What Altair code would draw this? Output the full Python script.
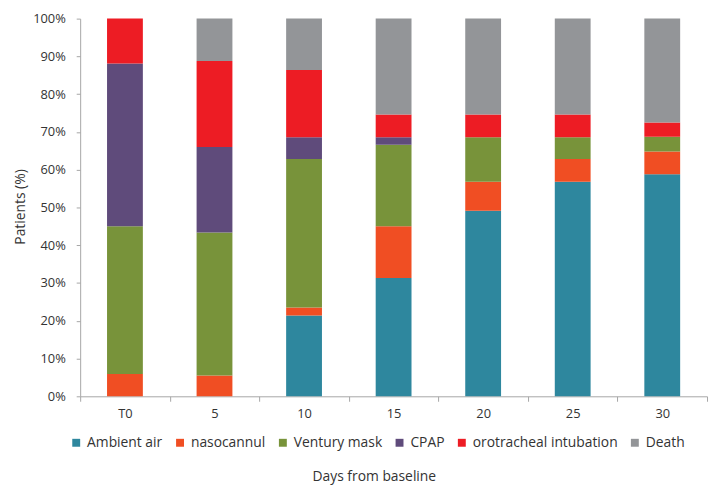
import altair as alt
import pandas as pd

days = ["T0", "5", "10", "15", "20", "25", "30"]
series = ["Ambient air", "nasocannul", "Ventury mask", "CPAP", "orotracheal intubation", "Death"]
colors = ["#2E879E", "#F04E23", "#78933A", "#5F4B7B", "#ED1C24", "#939598"]

ambient = [0, 0, 21.4, 31.3, 49.1, 56.8, 58.8]
naso = [5.9, 5.5, 2.1, 13.7, 7.7, 6.0, 6.0]
ventury = [39.1, 37.9, 39.3, 21.6, 11.8, 5.8, 3.9]
cpap = [43.1, 22.6, 5.8, 2.0, 0, 0, 0]
oti = [11.9, 22.8, 17.8, 6.0, 6.0, 6.0, 3.8]
death = [0, 11.2, 13.6, 25.4, 25.4, 25.4, 27.5]

values = [ambient, naso, ventury, cpap, oti, death]
rows = []
for si, (name, vals) in enumerate(zip(series, values)):
    for d, v in zip(days, vals):
        rows.append({"day": d, "series": name, "order": si, "value": v})
df = pd.DataFrame(rows)

FONT = "Open Sans"
AX = "#A6A6A6"
TXT = "#333333"

chart = alt.Chart(df).mark_bar(width={"band": 0.4}).encode(
    x=alt.X("day:N", sort=days, scale=alt.Scale(paddingInner=0, paddingOuter=0),
            axis=alt.Axis(title="Days from baseline", labelAngle=0, tickBand="extent",
                          domainColor=AX, tickColor=AX, tickSize=5, labelPadding=6,
                          labelFontSize=13, labelColor=TXT, labelFont=FONT,
                          titleFont=FONT, titleFontSize=14, titleFontWeight="normal",
                          titleColor=TXT, titleX=297, titleY=81,
                          titleBaseline="middle", titleAlign="center")),
    y=alt.Y("value:Q", stack="zero", scale=alt.Scale(domain=[0, 100], nice=False),
            axis=alt.Axis(title="Patients (%)", values=list(range(0, 101, 10)),
                          labelExpr="datum.value + '%'", grid=False,
                          domainColor=AX, tickColor=AX, tickSize=4, labelPadding=11,
                          labelFontSize=13, labelColor=TXT, labelFont=FONT,
                          titleFont=FONT, titleFontSize=14, titleFontWeight="normal",
                          titleColor=TXT, titleX=-60, titleY=190,
                          titleAngle=-90, titleBaseline="middle", titleAlign="center")),
    color=alt.Color("series:N", sort=series,
                    scale=alt.Scale(domain=series, range=colors),
                    legend=alt.Legend(title=None, orient="none", direction="horizontal",
                                      columns=6, legendX=-11, legendY=422,
                                      symbolType="square", symbolSize=64,
                                      symbolStrokeWidth=0, columnPadding=10,
                                      labelFontSize=14, labelFont=FONT,
                                      labelColor=TXT, labelOffset=4)),
    order=alt.Order("order:Q", sort="ascending"),
).properties(
    width=634, height=382,
    autosize=alt.AutoSizeParams(type="none"),
    padding={"left": 73, "top": 8, "right": 2, "bottom": 90},
).configure_view(stroke=None)

chart.save("out.html", embed_options={"renderer": "svg", "actions": False})
